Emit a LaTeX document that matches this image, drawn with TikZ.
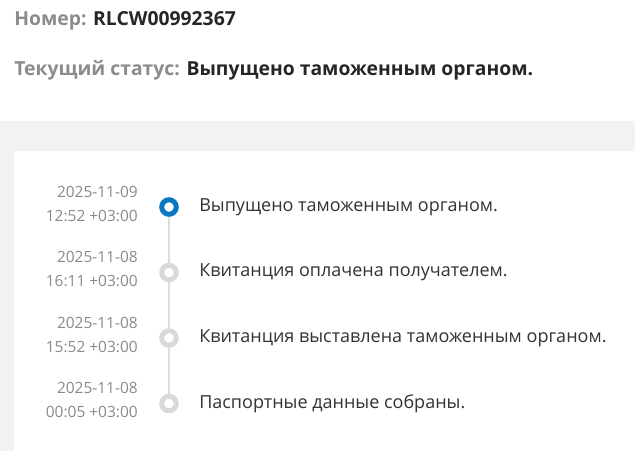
\documentclass[tikz,border=0pt]{standalone}
\usepackage{fontspec}
\setmainfont{Open Sans}
\usetikzlibrary{backgrounds}
\definecolor{bandcolor}{HTML}{F2F2F2}
\definecolor{labelcolor}{HTML}{8C8C8C}
\definecolor{valuecolor}{HTML}{262626}
\definecolor{datecolor}{HTML}{8A8A8A}
\definecolor{eventcolor}{HTML}{333333}
\definecolor{activecolor}{HTML}{0A78C0}
\definecolor{idlecolor}{HTML}{D9D9D9}
\definecolor{railcolor}{HTML}{DDDDDD}

\begin{document}
\begin{tikzpicture}[
    x=0.75pt, y=-0.75pt,
    header/.style={anchor=base west, inner sep=0pt, font=\fontsize{14.5}{17}\selectfont\bfseries},
    stamp/.style={anchor=east, align=right, inner sep=0pt, text=datecolor, font=\fontsize{11.6}{18}\selectfont},
    event/.style={anchor=west, inner sep=0pt, text=eventcolor, font=\fontsize{13.5}{16}\selectfont},
    dot/.style={circle, draw=idlecolor, fill=white, line width=3.75pt, minimum size=10.9pt, inner sep=0pt},
    rail/.style={draw=railcolor, line width=1.1pt}
]
    \useasboundingbox (0,0) rectangle (635,451);

    % Header
    \node[header] (number) at (14,25) {\textcolor{labelcolor}{Номер:} \textcolor{valuecolor}{RLCW00992367}};
    \node[header] (status) at (14,75) {\textcolor{labelcolor}{Текущий статус:} \textcolor{valuecolor}{Выпущено таможенным органом.}};

    % Timeline dots
    \node[dot, draw=activecolor] (released) at (169,207) {};
    \node[dot] (paid) at (169,272.5) {};
    \node[dot] (issued) at (169,338) {};
    \node[dot] (passport) at (169,403.5) {};

    % Dates
    \node[stamp] (releasedtime) at (138,203.5) {2025-11-09\\12:52 +03:00};
    \node[stamp] (paidtime) at (138,269) {2025-11-08\\16:11 +03:00};
    \node[stamp] (issuedtime) at (138,334.5) {2025-11-08\\15:52 +03:00};
    \node[stamp] (passporttime) at (138,400) {2025-11-08\\00:05 +03:00};

    % Events
    \node[event] (releasedtext) at (199,207) {Выпущено таможенным органом.};
    \node[event] (paidtext) at (199,272.5) {Квитанция оплачена получателем.};
    \node[event] (issuedtext) at (199,338) {Квитанция выставлена таможенным органом.};
    \node[event] (passporttext) at (199,403.5) {Паспортные данные собраны.};

    % Band, card and rail
    \begin{scope}[on background layer]
        \fill[bandcolor] (0,121) rectangle (635,451);
        \fill[white] (14,151) rectangle (635,451);
        \draw[rail] (released) -- (paid) -- (issued) -- (passport);
    \end{scope}

\end{tikzpicture}
\end{document}
